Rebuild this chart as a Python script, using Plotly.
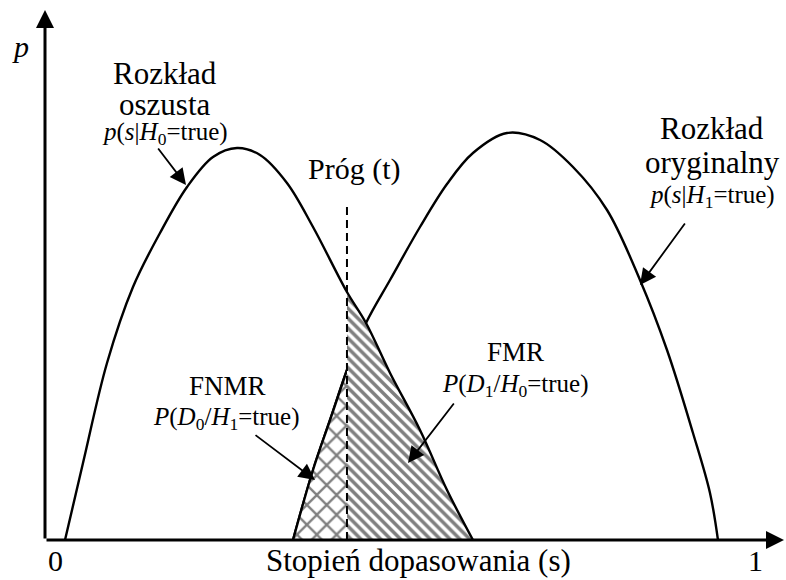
import plotly.graph_objects as go

# ---- data ----
s_impostor = [0.0143, 0.04, 0.0743, 0.1114, 0.15, 0.1886, 0.2257, 0.26, 0.2929,
              0.3314, 0.3686, 0.4171, 0.4443, 0.4786, 0.5214, 0.56, 0.5971]
p_impostor = [0.0, 0.1925, 0.4425, 0.6325, 0.7675, 0.8825, 0.9575, 0.98, 0.9625,
              0.8925, 0.7825, 0.62, 0.5425, 0.4175, 0.275, 0.125, 0.0]

s_genuine = [0.34, 0.3686, 0.3929, 0.4171, 0.4443, 0.4786, 0.5214, 0.56, 0.5971,
             0.6457, 0.6929, 0.74, 0.7886, 0.8357, 0.8743, 0.9114, 0.9357, 0.9471]
p_genuine = [0.0, 0.175, 0.3, 0.425, 0.5425, 0.65, 0.7825, 0.89, 0.9675,
             1.0175, 1.0, 0.9325, 0.825, 0.65, 0.475, 0.2675, 0.1175, 0.0]

threshold = 0.4171
threshold_top = 0.8375
tick_labels = ["0", "1"]
tick_values = [0.0, 1.0]

# ---- layout helpers (pixel -> data) ----
W, H = 786, 580
def sx(px):
    return (px - 55) / 700.0
def py(pix):
    return (540 - pix) / 400.0

FONT = "Liberation Serif"
BLACK = "black"

fig = go.Figure()

# genuine curve (full)
fig.add_trace(go.Scatter(x=s_genuine, y=p_genuine, mode="lines",
                         line=dict(color=BLACK, width=2.4, shape="spline"),
                         hoverinfo="skip"))

# FNMR region: under genuine curve, left of threshold
fn_x = [s for s in s_genuine if s <= threshold]
fn_y = [p for s, p in zip(s_genuine, p_genuine) if s <= threshold]
fig.add_trace(go.Scatter(x=fn_x, y=fn_y, mode="lines", fill="tozeroy",
                         line=dict(color=BLACK, width=2.4, shape="spline"),
                         fillcolor="white",
                         fillpattern=dict(shape="x", size=14, solidity=0.3,
                                          fgcolor=BLACK, bgcolor="white"),
                         hoverinfo="skip"))

# FMR region: under impostor curve, right of threshold
fm_x = [s for s in s_impostor if s >= threshold]
fm_y = [p for s, p in zip(s_impostor, p_impostor) if s >= threshold]
fig.add_trace(go.Scatter(x=fm_x, y=fm_y, mode="lines", fill="tozeroy",
                         line=dict(color=BLACK, width=0, shape="spline"),
                         fillcolor="white",
                         fillpattern=dict(shape="\\", size=7, solidity=0.5,
                                          fgcolor=BLACK, bgcolor="white"),
                         hoverinfo="skip"))

# impostor curve (full, on top)
fig.add_trace(go.Scatter(x=s_impostor, y=p_impostor, mode="lines",
                         line=dict(color=BLACK, width=2.4, shape="spline"),
                         hoverinfo="skip"))

# threshold dashed line
fig.add_shape(type="line", x0=threshold, x1=threshold, y0=0, y1=threshold_top,
              line=dict(color=BLACK, width=2, dash="8px,5px"), layer="above")

annotations = []

def arrow(x_tip, y_tip, x_tail, y_tail, width=1.8, size=1.8):
    annotations.append(dict(x=x_tip, y=y_tip, ax=x_tail, ay=y_tail,
                            xref="x", yref="y", axref="x", ayref="y",
                            text="", showarrow=True, arrowhead=2,
                            arrowsize=size, arrowwidth=width, arrowcolor=BLACK,
                            standoff=0, startstandoff=0))

def label(txt, x, y, size):
    annotations.append(dict(x=x, y=y, xref="x", yref="y", text=txt,
                            showarrow=False, xanchor="center", yanchor="middle",
                            font=dict(family=FONT, size=size, color=BLACK)))

# axes with arrowheads
arrow(sx(784), 0, sx(45), 0, width=3, size=1.2)
arrow(sx(45), py(10), sx(45), 0, width=3, size=1.2)

# tick labels
for v, t in zip(tick_values, tick_labels):
    label(t, v, py(560), 30)
label("Stopień dopasowania (s)", sx(418), py(560), 31)
label("<i>p</i>", sx(20), py(46), 30)

# impostor labels
label("Rozkład", sx(165), py(73), 31)
label("oszusta", sx(165), py(104), 31)
label("<i>p</i>(<i>s</i>|<i>H</i><sub>0</sub>=true)", sx(165), py(133), 25)
arrow(sx(186), py(185), sx(157), py(147))

# threshold label
label("Próg (t)", sx(354), py(169), 30)

# genuine labels
label("Rozkład", sx(712), py(128), 31)
label("oryginalny", sx(712), py(162), 31)
label("<i>p</i>(<i>s</i>|<i>H</i><sub>1</sub>=true)", sx(712), py(196), 25)
arrow(sx(640), py(285), sx(686), py(222))

# FMR labels
label("FMR", sx(515), py(352), 27)
label("<i>P</i>(<i>D</i><sub>1</sub>/<i>H</i><sub>0</sub>=true)", sx(515), py(385), 25)
arrow(sx(408), py(463), sx(455), py(402))

# FNMR labels
label("FNMR", sx(227), py(386), 27)
label("<i>P</i>(<i>D</i><sub>0</sub>/<i>H</i><sub>1</sub>=true)", sx(226), py(418), 25)
arrow(sx(315), py(480), sx(254), py(434))

fig.update_layout(
    width=W, height=H,
    margin=dict(l=0, r=0, t=0, b=0),
    paper_bgcolor="white", plot_bgcolor="white",
    showlegend=False,
    xaxis=dict(visible=False, range=[sx(0), sx(W)], fixedrange=True),
    yaxis=dict(visible=False, range=[py(H), py(0)], fixedrange=True),
    annotations=annotations,
)

fig.write_html("out.html", config={"displayModeBar": False},
               post_script="document.body.style.margin='0px';")
